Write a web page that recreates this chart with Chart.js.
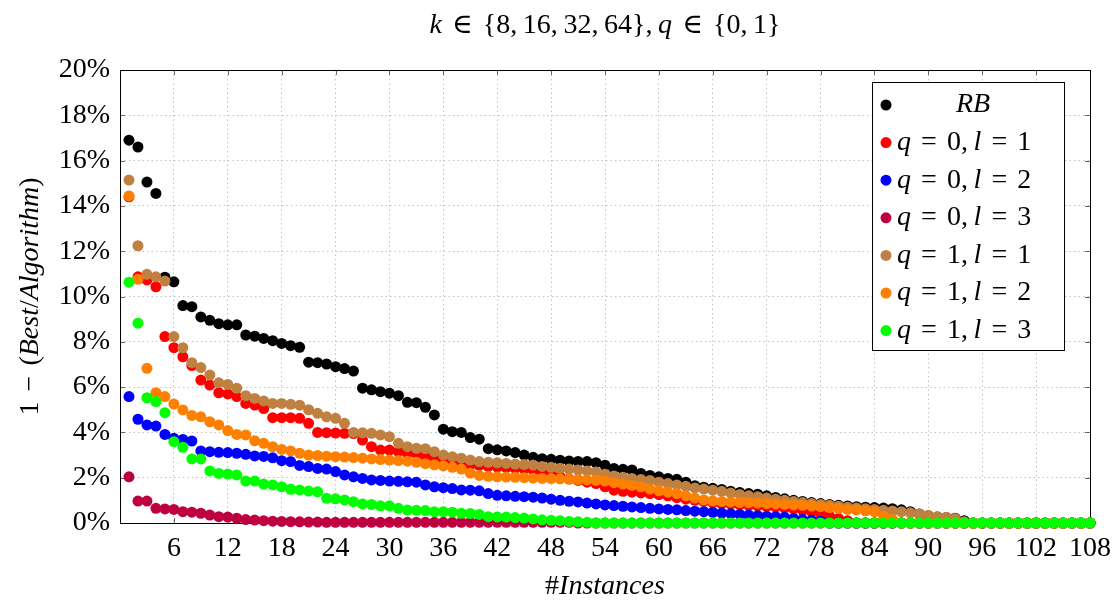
<!DOCTYPE html>
<html>
<head>
<meta charset="utf-8">
<script src="https://cdn.jsdelivr.net/npm/chart.js@4.4.1/dist/chart.umd.min.js"></script>
<style>
  html, body { margin: 0; padding: 0; background: #fff; }
  #wrap { width: 1120px; height: 604px; }
</style>
</head>
<body>
<div id="wrap"><canvas id="scatterChart" width="1120" height="604"></canvas></div>
<script>
// instance numbers on the x axis
const instances = [
  1, 2, 3, 4, 5, 6, 7, 8, 9, 10, 11, 12, 13, 14, 15, 16, 17, 18, 19, 20,
  21, 22, 23, 24, 25, 26, 27, 28, 29, 30, 31, 32, 33, 34, 35, 36, 37, 38, 39, 40,
  41, 42, 43, 44, 45, 46, 47, 48, 49, 50, 51, 52, 53, 54, 55, 56, 57, 58, 59, 60,
  61, 62, 63, 64, 65, 66, 67, 68, 69, 70, 71, 72, 73, 74, 75, 76, 77, 78, 79, 80,
  81, 82, 83, 84, 85, 86, 87, 88, 89, 90, 91, 92, 93, 94, 95, 96, 97, 98, 99, 100,
  101, 102, 103, 104, 105, 106, 107, 108
];

const xTicks = [6, 12, 18, 24, 30, 36, 42, 48, 54, 60, 66, 72, 78, 84, 90, 96, 102, 108];
const yTicks = [0, 2, 4, 6, 8, 10, 12, 14, 16, 18, 20];

// values in percent
const rb = [
  16.9, 16.6, 15.05, 14.55, 10.85, 10.65, 9.6, 9.55, 9.1, 8.95,
  8.8, 8.75, 8.75, 8.3, 8.25, 8.15, 8.05, 7.93, 7.83, 7.76,
  7.1, 7.08, 7.02, 6.9, 6.82, 6.71, 5.95, 5.88, 5.8, 5.73,
  5.62, 5.33, 5.31, 5.11, 4.77, 4.14, 4.03, 4.0, 3.77, 3.7,
  3.28, 3.23, 3.18, 3.11, 3.0, 2.9, 2.84, 2.81, 2.77, 2.74,
  2.72, 2.71, 2.66, 2.55, 2.41, 2.37, 2.34, 2.19, 2.1, 2.04,
  1.97, 1.93, 1.8, 1.65, 1.58, 1.53, 1.48, 1.4, 1.35, 1.3,
  1.27, 1.2, 1.13, 1.07, 1.0, 0.95, 0.9, 0.86, 0.82, 0.78,
  0.75, 0.72, 0.7, 0.68, 0.66, 0.63, 0.58, 0.5, 0.4, 0.32,
  0.27, 0.24, 0.21, 0.1, 0, 0, 0, 0, 0, 0,
  0, 0, 0, 0, 0, 0, 0, 0
];

const q0l1 = [
  14.4, 10.87, 10.73, 10.43, 8.23, 7.74, 7.34, 6.95, 6.31, 6.09,
  5.75, 5.7, 5.58, 5.28, 5.21, 5.05, 4.65, 4.65, 4.65, 4.62,
  4.4, 4.0, 3.99, 3.97, 3.96, 3.95, 3.66, 3.37, 3.22, 3.22,
  3.15, 3.08, 3.06, 2.93, 2.86, 2.71, 2.63, 2.58, 2.56, 2.54,
  2.5, 2.47, 2.44, 2.41, 2.38, 2.33, 2.25, 2.15, 2.05, 1.95,
  1.88, 1.8, 1.74, 1.6, 1.45, 1.4, 1.36, 1.33, 1.3, 1.25,
  1.2, 1.12, 1.05, 1.0, 0.95, 0.9, 0.86, 0.83, 0.8, 0.78,
  0.76, 0.73, 0.7, 0.66, 0.62, 0.56, 0.5, 0.4, 0.3, 0.2,
  0.1, 0, 0, 0, 0, 0, 0, 0, 0, 0,
  0, 0, 0, 0, 0, 0, 0, 0, 0, 0,
  0, 0, 0, 0, 0, 0, 0, 0
];

const q0l2 = [
  5.58, 4.58, 4.33, 4.28, 3.91, 3.74, 3.69, 3.62, 3.18, 3.15,
  3.12, 3.11, 3.08, 3.03, 2.96, 2.94, 2.88, 2.75, 2.71, 2.54,
  2.49, 2.41, 2.38, 2.27, 2.12, 2.04, 1.97, 1.9, 1.88, 1.85,
  1.84, 1.82, 1.8, 1.68, 1.6, 1.56, 1.52, 1.46, 1.45, 1.42,
  1.3, 1.22, 1.2, 1.18, 1.16, 1.14, 1.1, 1.05, 1.0, 0.96,
  0.93, 0.88, 0.84, 0.8, 0.77, 0.74, 0.71, 0.68, 0.65, 0.62,
  0.6, 0.58, 0.55, 0.52, 0.5, 0.47, 0.44, 0.41, 0.38, 0.35,
  0.32, 0.3, 0.28, 0.25, 0.2, 0.15, 0.12, 0.08, 0, 0,
  0, 0, 0, 0, 0, 0, 0, 0, 0, 0,
  0, 0, 0, 0, 0, 0, 0, 0, 0, 0,
  0, 0, 0, 0, 0, 0, 0, 0
];

const q0l3 = [
  2.04, 0.97, 0.97, 0.65, 0.62, 0.6, 0.5, 0.48, 0.43, 0.35,
  0.28, 0.26, 0.21, 0.15, 0.13, 0.1, 0.08, 0.07, 0.06, 0.05,
  0.04, 0.04, 0.03, 0.03, 0.03, 0.03, 0.03, 0.03, 0.03, 0.03,
  0.03, 0.03, 0.03, 0.03, 0.03, 0.03, 0.03, 0.03, 0.03, 0.03,
  0.03, 0.03, 0.03, 0.03, 0.03, 0.03, 0.03, 0.03, 0.03, 0.03,
  0, 0, 0, 0, 0, 0, 0, 0, 0, 0,
  0, 0, 0, 0, 0, 0, 0, 0, 0, 0,
  0, 0, 0, 0, 0, 0, 0, 0, 0, 0,
  0, 0, 0, 0, 0, 0, 0, 0, 0, 0,
  0, 0, 0, 0, 0, 0, 0, 0, 0, 0,
  0, 0, 0, 0, 0, 0, 0, 0
];

const q1l1 = [
  15.14, 12.24, 10.98, 10.87, 10.68, 8.23, 7.74, 7.08, 6.86, 6.53,
  6.19, 6.12, 5.95, 5.62, 5.5, 5.39, 5.28, 5.28, 5.24, 5.2,
  5.0, 4.84, 4.69, 4.62, 4.4, 4.0, 3.98, 3.96, 3.89, 3.81,
  3.52, 3.37, 3.3, 3.28, 3.15, 3.0, 2.93, 2.86, 2.78, 2.71,
  2.68, 2.66, 2.63, 2.6, 2.58, 2.56, 2.5, 2.46, 2.42, 2.38,
  2.34, 2.3, 2.25, 2.15, 2.08, 2.02, 1.96, 1.92, 1.88, 1.8,
  1.74, 1.68, 1.62, 1.55, 1.5, 1.45, 1.4, 1.33, 1.26, 1.2,
  1.16, 1.1, 1.05, 1.0, 0.95, 0.9, 0.86, 0.82, 0.78, 0.74,
  0.7, 0.66, 0.63, 0.6, 0.56, 0.53, 0.5, 0.45, 0.4, 0.33,
  0.28, 0.25, 0.2, 0.05, 0, 0, 0, 0, 0, 0,
  0, 0, 0, 0, 0, 0, 0, 0
];

const q1l2 = [
  14.44, 10.76, 6.83, 5.75, 5.58, 5.25, 4.99, 4.75, 4.69, 4.47,
  4.33, 4.08, 3.91, 3.89, 3.63, 3.52, 3.37, 3.25, 3.18, 3.08,
  3.0, 2.98, 2.95, 2.93, 2.91, 2.89, 2.86, 2.83, 2.8, 2.78,
  2.76, 2.73, 2.68, 2.62, 2.57, 2.52, 2.46, 2.38, 2.2, 2.1,
  2.06, 2.04, 2.03, 2.02, 2.0, 1.98, 1.97, 1.96, 1.95, 1.93,
  1.92, 1.9, 1.88, 1.85, 1.78, 1.72, 1.66, 1.6, 1.5, 1.42,
  1.36, 1.3, 1.2, 1.1, 1.02, 0.98, 0.95, 0.93, 0.91, 0.9,
  0.88, 0.86, 0.84, 0.82, 0.8, 0.78, 0.75, 0.72, 0.68, 0.64,
  0.6, 0.57, 0.54, 0.5, 0.3, 0.15, 0, 0, 0, 0,
  0, 0, 0, 0, 0, 0, 0, 0, 0, 0,
  0, 0, 0, 0, 0, 0, 0, 0
];

const q1l3 = [
  10.63, 8.82, 5.53, 5.36, 4.87, 3.59, 3.34, 2.83, 2.83, 2.3,
  2.19, 2.16, 2.12, 1.85, 1.85, 1.72, 1.68, 1.6, 1.49, 1.46,
  1.41, 1.38, 1.09, 1.07, 1.02, 0.94, 0.84, 0.82, 0.76, 0.76,
  0.65, 0.57, 0.56, 0.55, 0.5, 0.5, 0.48, 0.43, 0.42, 0.38,
  0.28, 0.27, 0.26, 0.24, 0.22, 0.18, 0.14, 0.12, 0.1, 0.07,
  0.05, 0.03, 0, 0, 0, 0, 0, 0, 0, 0,
  0, 0, 0, 0, 0, 0, 0, 0, 0, 0,
  0, 0, 0, 0, 0, 0, 0, 0, 0, 0,
  0, 0, 0, 0, 0, 0, 0, 0, 0, 0,
  0, 0, 0, 0, 0, 0, 0, 0, 0, 0,
  0, 0, 0, 0, 0, 0, 0, 0
];

const seriesLabels = ["RB", "q = 0, l = 1", "q = 0, l = 2", "q = 0, l = 3", "q = 1, l = 1", "q = 1, l = 2", "q = 1, l = 3"];
const seriesValues = [rb, q0l1, q0l2, q0l3, q1l1, q1l2, q1l3];
const seriesColors = ["#000000", "#ff0000", "#0000ff", "#bf0040", "#bf8040", "#ff8000", "#00ff00"];

const chartTitle = "k ∈ {8, 16, 32, 64}, q ∈ {0, 1}";
const xTitle = "#Instances";
const yTitle = "1 − (Best/Algorithm)";

const FONT = '"Liberation Serif", "DejaVu Serif", serif';
const FS = 28;

// draws text with letters in italic and wider gaps, roughly like TeX math mode
function drawMath(ctx, text, x, y, size, align) {
  const runs = [];
  const chars = Array.from(text);
  chars.forEach((ch, k) => {
    if (ch === " ") {
      runs.push({ gap: (chars[k - 1] === "," ? 0.2 : 0.36) * size });
      return;
    }
    const it = /[A-Za-z]/.test(ch);
    const last = runs[runs.length - 1];
    if (last && last.s !== undefined && last.it === it) last.s += ch;
    else runs.push({ s: ch, it: it });
  });
  let total = 0;
  runs.forEach(r => {
    if (r.gap !== undefined) { r.w = r.gap; }
    else {
      ctx.font = (r.it ? "italic " : "") + size + "px " + FONT;
      r.w = ctx.measureText(r.s).width;
    }
    total += r.w;
  });
  let cx = align === "center" ? x - total / 2 : x;
  ctx.textBaseline = "middle";
  ctx.textAlign = "left";
  ctx.fillStyle = "#000";
  runs.forEach(r => {
    if (r.s !== undefined) {
      ctx.font = (r.it ? "italic " : "") + size + "px " + FONT;
      ctx.fillText(r.s, cx, y);
    }
    cx += r.w;
  });
}

const frameAndTicks = {
  id: "frameAndTicks",
  beforeDatasetsDraw(chart) {
    const { ctx, chartArea: a, scales } = chart;
    ctx.save();
    ctx.strokeStyle = "#666";
    ctx.lineWidth = 1;
    ctx.beginPath();
    xTicks.forEach(t => {
      const px = Math.round(scales.x.getPixelForValue(t)) + 0.5;
      ctx.moveTo(px, a.bottom); ctx.lineTo(px, a.bottom - 5);
      ctx.moveTo(px, a.top); ctx.lineTo(px, a.top + 5);
    });
    yTicks.forEach(t => {
      const py = Math.round(scales.y.getPixelForValue(t)) + 0.5;
      ctx.moveTo(a.left, py); ctx.lineTo(a.left + 5, py);
      ctx.moveTo(a.right, py); ctx.lineTo(a.right - 5, py);
    });
    ctx.stroke();
    ctx.strokeStyle = "#000";
    ctx.strokeRect(Math.round(a.left) + 0.5, Math.round(a.top) + 0.5,
      Math.round(a.right - a.left), Math.round(a.bottom - a.top));
    ctx.restore();
  },
  afterDraw(chart) {
    const { ctx, chartArea: a } = chart;
    ctx.save();
    const midX = (a.left + a.right) / 2;
    drawMath(ctx, chartTitle, midX, 26, FS, "center");
    drawMath(ctx, xTitle, midX, 587, FS, "center");
    ctx.save();
    ctx.translate(31, (a.top + a.bottom) / 2);
    ctx.rotate(-Math.PI / 2);
    drawMath(ctx, yTitle, 0, 0, FS, "center");
    ctx.restore();

    // legend box
    const bx = 872, by = 82, bw = 192, bh = 268;
    ctx.fillStyle = "#fff";
    ctx.fillRect(bx, by, bw, bh);
    ctx.strokeStyle = "#000";
    ctx.lineWidth = 1;
    ctx.strokeRect(bx + 0.5, by + 0.5, bw, bh);
    seriesLabels.forEach((lab, i) => {
      const ry = 105 + i * 37.6;
      ctx.beginPath();
      ctx.fillStyle = seriesColors[i];
      ctx.arc(886, ry, 5.5, 0, Math.PI * 2);
      ctx.fill();
      if (i === 0) drawMath(ctx, lab, 973, ry, FS, "center");
      else drawMath(ctx, lab, 897, ry, FS, "left");
    });
    ctx.restore();
  }
};

new Chart(document.getElementById("scatterChart"), {
  type: "scatter",
  data: {
    datasets: seriesValues.map((vals, i) => ({
      label: seriesLabels[i],
      data: vals.map((v, k) => ({ x: instances[k], y: v })),
      backgroundColor: seriesColors[i],
      borderWidth: 0,
      pointRadius: 5.5,
      pointHoverRadius: 5.5,
      order: seriesValues.length - i
    }))
  },
  plugins: [frameAndTicks],
  options: {
    responsive: false,
    animation: false,
    devicePixelRatio: 1,
    layout: { padding: { top: 70, right: 25, left: 0, bottom: 0 } },
    plugins: {
      legend: { display: false },
      title: { display: false },
      tooltip: { enabled: false }
    },
    elements: { point: { pointStyle: "circle" } },
    clip: false,
    scales: {
      x: {
        type: "linear",
        min: 0,
        max: 108,
        afterFit: s => { s.height = 81; },
        afterBuildTicks: s => { s.ticks = [0].concat(xTicks).map(v => ({ value: v })); },
        ticks: {
          padding: 9,
          color: "#000",
          font: { family: FONT, size: FS },
          callback: v => (v === 0 ? "" : String(v))
        },
        grid: { color: "#c4c4c4", lineWidth: 1, drawTicks: false },
        border: { display: false, dash: [1.5, 3] }
      },
      y: {
        min: 0,
        max: 20,
        afterFit: s => { s.width = 120; },
        afterBuildTicks: s => { s.ticks = yTicks.map(v => ({ value: v })); },
        ticks: {
          padding: 10,
          color: "#000",
          font: { family: FONT, size: FS },
          callback: v => v + "%"
        },
        grid: { color: "#c4c4c4", lineWidth: 1, drawTicks: false },
        border: { display: false, dash: [1.5, 3] }
      }
    }
  }
});
</script>
</body>
</html>
